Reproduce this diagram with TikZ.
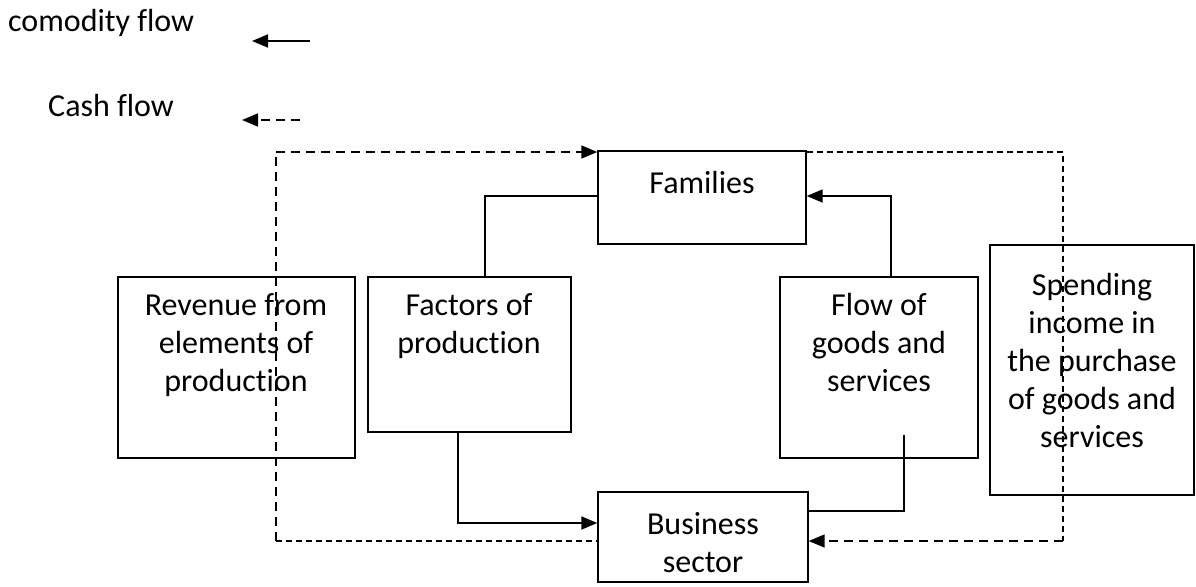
\documentclass[tikz,border=0pt]{standalone}
\usepackage{fontspec}
\setmainfont[Ligatures=NoCommon]{Carlito}
\usetikzlibrary{arrows.meta,calc}
\begin{document}
\begin{tikzpicture}[x=1pt,y=-1pt,
  box/.style={draw,line width=1.4pt,inner sep=0pt},
  txt/.style={inner sep=0pt,align=center,anchor=north,font=\fontsize{32}{38}\selectfont},
  sline/.style={line width=1.3pt},
  sarrow/.style={line width=1.8pt,-{Triangle[length=16pt,width=13pt]}},
  dthick/.style={line width=1.7pt,dash pattern=on 9pt off 6pt},
  dthin/.style={line width=1.2pt,dash pattern=on 6pt off 4pt},
  darrow/.style={line width=1.7pt,dash pattern=on 9pt off 6pt,-{Triangle[length=16pt,width=13pt]}}]
\useasboundingbox (0,0) rectangle (1196,586);
% boxes
\node[box,minimum width=208pt,minimum height=93pt] (fam) at (702,197.5) {};
\node[box,minimum width=237pt,minimum height=181pt] (rev) at (236.5,367.5) {};
\node[box,minimum width=203pt,minimum height=155pt] (fac) at (469.5,354.5) {};
\node[box,minimum width=198pt,minimum height=181pt] (flo) at (879,367.5) {};
\node[box,minimum width=204pt,minimum height=250pt] (spe) at (1092,370) {};
\node[box,minimum width=210pt,minimum height=90pt] (bus) at (703,537) {};
% texts
\node[txt] (famt) at (702,171) {Families};
\node[txt] (revt) at (236,293) {Revenue from\\elements of\\production};
\node[txt] (fact) at (469,293) {Factors of\\production};
\node[txt] (flot) at (879,293) {Flow of\\goods and\\services};
\node[txt] (spet) at (1092,273) {Spending\\income in\\the purchase\\of goods and\\services};
\node[txt] (bust) at (703,512) {Business\\sector};
% legend
\node[txt,anchor=north west] (leg1) at (8,9) {comodity flow};
\node[txt,anchor=north west] (leg2) at (48,94) {Cash flow};
\coordinate (l1a) at (310,41); \coordinate (l1b) at (252,41);
\coordinate (l2a) at (300,120); \coordinate (l2b) at (242,120);
\draw[sarrow] (l1a) -- (l1b);
\draw[darrow] (l2a) -- (l2b);
% solid connectors
\coordinate (c1) at (485,196);
\coordinate (c1b) at (485,277);
\draw[sline] (fam.west |- c1) -- (c1) -- (c1b);
\coordinate (c2) at (458,432);
\coordinate (c2b) at (458,523);
\draw[sarrow] (c2) -- (c2b) -- (bus.west |- c2b);
\coordinate (c3) at (891,277);
\coordinate (c3b) at (891,196);
\draw[sarrow] (c3) -- (c3b) -- (fam.east |- c3b);
\coordinate (c4) at (904,435);
\coordinate (c4b) at (904,511);
\draw[sline] (c4) -- (c4b) -- (bus.east |- c4b);
% dashed connectors
\coordinate (d1) at (276,152);
\coordinate (d2) at (276,541);
\draw[dthick] (d2) -- (d1);
\draw[darrow] (d1) -- (fam.north west |- d1);
\draw[dthin] (d2) -- (bus.west |- d2);
\coordinate (d3) at (1063,152);
\coordinate (d4) at (1063,541);
\draw[dthin] (fam.north east |- d3) -- (d3) -- (d4);
\draw[darrow] (d4) -- (bus.east |- d4);
\end{tikzpicture}
\end{document}
